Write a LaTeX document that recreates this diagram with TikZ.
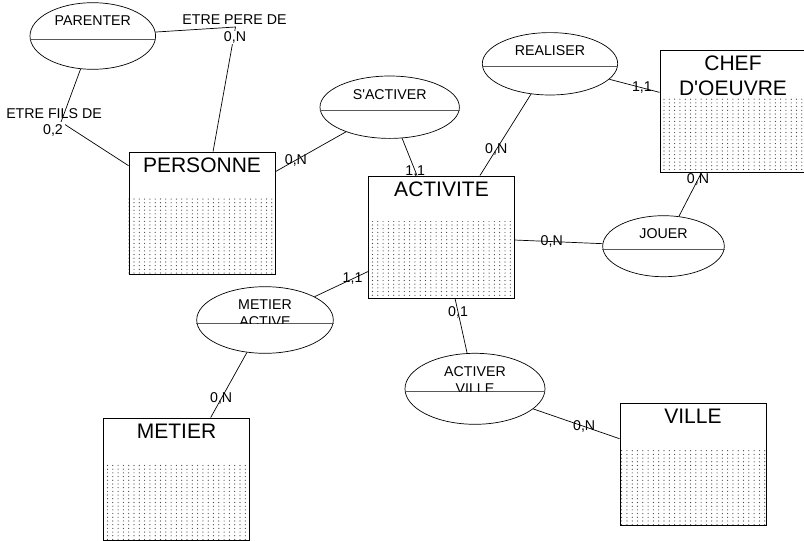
\documentclass[tikz,border=0pt]{standalone}
\usepackage{fontspec}
\setmainfont{Liberation Sans}[Ligatures=TeXOff]
\usetikzlibrary{shapes.geometric, patterns.meta, backgrounds}

\tikzdeclarepattern{
  name=merisedots,
  type=uncolored,
  bottom left={(-0.1pt,-0.1pt)},
  top right={(5.4pt,3.8pt)},
  tile size={(5.3pt,3.7pt)},
  code={\pgfpathcircle{\pgfpoint{1.5pt}{1.5pt}}{0.6pt}\pgfusepath{fill}}
}

\tikzset{
  entity/.style={rectangle, draw, line width=0.9pt,
    minimum width=146pt, minimum height=122pt, inner sep=0pt},
  etitle/.style={font=\fontsize{21}{24.5}\selectfont, align=center,
    anchor=north, inner sep=0pt},
  dotarea/.style={fill=white, postaction={pattern={merisedots}, pattern color=black!75}},
  assoc/.style={ellipse, draw, line width=0.7pt, inner sep=0pt},
  atitle/.style={font=\fontsize{14.2}{17}\selectfont, align=center,
    anchor=north, inner sep=0pt},
  split/.style={draw=black!65, line width=1pt},
  link/.style={line width=0.7pt},
  card/.style={font=\fontsize{14.2}{17}\selectfont, inner sep=0.5pt},
}

\begin{document}
\begin{tikzpicture}[x=1pt, y=-1pt]

  \path[use as bounding box] (0,0) rectangle (804,541);

  % entities
  \node[entity] (personne) at (202,213) {};
  \node[entity] (activite) at (441.5,237) {};
  \node[entity] (chef) at (733,111.5) {};
  \node[entity] (metier) at (176.5,479) {};
  \node[entity] (ville) at (693,464) {};

  % titles and dotted part below the borders
  \begin{pgfonlayer}{background}
    \node[etitle] (personne-t) at ([yshift=-6pt]personne.north) {PERSONNE};
    \fill[dotarea] ([yshift=-46pt]personne.north west) rectangle (personne.south east);

    \node[etitle] (activite-t) at ([yshift=-6pt]activite.north) {ACTIVITE};
    \fill[dotarea] ([yshift=-46pt]activite.north west) rectangle (activite.south east);

    \node[etitle] (chef-t) at ([yshift=-6pt]chef.north) {CHEF\\D'OEUVRE};
    \fill[dotarea] ([yshift=-46pt]chef.north west) rectangle (chef.south east);

    \node[etitle] (metier-t) at ([yshift=-6pt]metier.north) {METIER};
    \fill[dotarea] ([yshift=-46pt]metier.north west) rectangle (metier.south east);

    \node[etitle] (ville-t) at ([yshift=-6pt]ville.north) {VILLE};
    \fill[dotarea] ([yshift=-46pt]ville.north west) rectangle (ville.south east);
  \end{pgfonlayer}

  % associations
  \node[assoc, minimum width=125.6pt, minimum height=66.6pt] (parenter) at (92.8,36) {};
  \draw[split] ([yshift=-3pt]parenter.west) -- ([yshift=-3pt]parenter.east);
  \node[atitle] (parenter-t) at ([yshift=-13.5pt]parenter.north) {PARENTER};

  \node[assoc, minimum width=139.4pt, minimum height=62.4pt] (sactiver) at (389.7,107.2) {};
  \draw[split] ([yshift=-3pt]sactiver.west) -- ([yshift=-3pt]sactiver.east);
  \node[atitle] (sactiver-t) at ([yshift=-13.5pt]sactiver.north) {S'ACTIVER};

  \node[assoc, minimum width=135.4pt, minimum height=62.4pt] (realiser) at (550,63.8) {};
  \draw[split] ([yshift=-3pt]realiser.west) -- ([yshift=-3pt]realiser.east);
  \node[atitle] (realiser-t) at ([yshift=-13.5pt]realiser.north) {REALISER};

  \node[assoc, minimum width=121.6pt, minimum height=61pt] (jouer) at (663.5,246.2) {};
  \draw[split] ([yshift=-3pt]jouer.west) -- ([yshift=-3pt]jouer.east);
  \node[atitle] (jouer-t) at ([yshift=-13.5pt]jouer.north) {JOUER};

  \node[assoc, minimum width=136.6pt, minimum height=66.6pt] (metact) at (265,320) {};
  \draw[split] ([yshift=-3pt]metact.west) -- ([yshift=-3pt]metact.east);
  \begin{scope}
    \clip ([yshift=-3pt]metact.west) rectangle (metact.east |- metact.north);
    \node[atitle] (metact-t) at ([yshift=-13.5pt]metact.north) {METIER\\ACTIVE};
  \end{scope}

  \node[assoc, minimum width=140pt, minimum height=71pt] (actville) at (475,388.8) {};
  \draw[split] ([yshift=-3pt]actville.west) -- ([yshift=-3pt]actville.east);
  \begin{scope}
    \clip ([yshift=-3pt]actville.west) rectangle (actville.east |- actville.north);
    \node[atitle] (actville-t) at ([yshift=-13.5pt]actville.north) {ACTIVER\\VILLE};
  \end{scope}

  % reflexive links of PARENTER
  \coordinate (pere) at (235.5,27);
  \coordinate (fils) at (61,122);
  \draw[link] (parenter) -- (pere) -- (personne);
  \draw[link] (parenter) -- (fils) -- (personne);
  \node[card] (pere-r) at (234.5,20) {ETRE PERE DE};
  \node[card, fill=white] (pere-c) at (235,37.5) {0,N};
  \node[card] (fils-r) at (54,113.5) {ETRE FILS DE};
  \node[card, fill=white, inner sep=2pt] (fils-c) at (53,130) {0,2};

  % links
  \draw[link] (sactiver) -- node[card, pos=.71] (c-sa-pe) {0,N} (personne);
  \draw[link] (sactiver) -- node[card, pos=.88] (c-sa-ac) {1,1} (activite);
  \draw[link] (realiser) -- node[card, pos=.68] (c-re-ac) {0,N} (activite);
  \draw[link] (realiser) -- node[card, pos=.65] (c-re-ch) {1,1} (chef);
  \draw[link] (jouer)    -- node[card, pos=.85] (c-jo-ch) {0,N} (chef);
  \draw[link] (jouer)    -- node[card, pos=.58] (c-jo-ac) {0,N} (activite);
  \draw[link] (metact)   -- node[card, pos=.71] (c-ma-ac) {1,1} (activite);
  \draw[link] (metact)   -- node[card, pos=.71] (c-ma-me) {0,N} (metier);
  \draw[link] (actville) -- node[card, pos=.75] (c-av-ac) {0,1} (activite);
  \draw[link] (actville) -- node[card, pos=.59] (c-av-vi) {0,N} (ville);

\end{tikzpicture}
\end{document}
